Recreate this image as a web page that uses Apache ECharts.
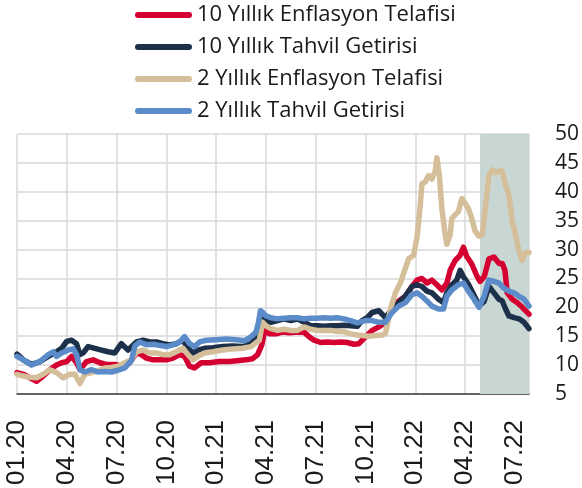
<!DOCTYPE html>
<html>
<head>
<meta charset="utf-8">
<script src="https://cdn.jsdelivr.net/npm/echarts@6/dist/echarts.min.js"></script>
<style>
html,body{margin:0;padding:0;background:#fff;}
#c{width:582px;height:488px;}
</style>
</head>
<body>
<div id="c"></div>
<script>
// x values are months since January 2020
const tickLabels = ['01.20','04.20','07.20','10.20','01.21','04.21','07.21','10.21','01.22','04.22','07.22'];
const seriesNames = ['10 Yıllık Enflasyon Telafisi','10 Yıllık Tahvil Getirisi','2 Yıllık Enflasyon Telafisi','2 Yıllık Tahvil Getirisi'];
const shadeRange = [27.9, 30.85];

const red10 = [[0,8.7],[0.38,8.4],[0.78,7.8],[1.18,7.2],[1.58,8.1],[1.98,9.2],[2.38,10.0],[2.69,10.4],[2.99,10.6],[3.29,11.5],[3.59,10.4],[3.79,9.2],[4.19,10.6],[4.59,10.9],[4.99,10.4],[5.39,10.1],[5.89,10.1],[6.39,9.8],[6.79,10.4],[7.2,12.1],[7.5,11.8],[7.8,11.2],[8.2,10.9],[8.6,10.9],[9.0,10.9],[9.4,11.2],[9.8,11.8],[10.1,11.5],[10.4,9.8],[10.7,9.5],[11.1,10.4],[11.6,10.4],[12.2,10.6],[12.8,10.6],[13.4,10.8],[13.8,10.9],[14.2,11.1],[14.5,11.8],[14.75,13.5],[14.95,16.3],[15.2,15.4],[15.6,15.4],[16.0,15.7],[16.4,15.6],[16.9,15.7],[17.3,15.7],[17.6,14.9],[17.9,14.3],[18.3,13.9],[18.7,14.0],[19.1,13.9],[19.5,14.0],[19.9,13.9],[20.3,13.6],[20.6,13.7],[21.0,14.9],[21.4,16.0],[21.8,16.6],[22.2,17.4],[22.6,19.7],[23.0,21.1],[23.4,21.9],[23.8,23.6],[24.1,24.7],[24.4,25.0],[24.7,24.2],[25.0,24.7],[25.3,23.9],[25.6,23.0],[25.9,24.2],[26.1,26.4],[26.4,28.1],[26.7,29.0],[26.9,30.4],[27.1,28.8],[27.4,27.5],[27.7,25.5],[27.9,24.5],[28.15,25.3],[28.44,28.4],[28.74,28.7],[29.04,27.6],[29.24,27.6],[29.4,26.4],[29.54,22.5],[29.84,21.4],[30.15,20.8],[30.45,20.0],[30.85,18.8]];

const navy10 = [[0,11.9],[0.38,10.9],[0.88,10.1],[1.38,10.6],[1.88,11.5],[2.28,12.1],[2.69,12.9],[2.99,14.1],[3.29,14.3],[3.59,13.7],[3.79,11.8],[3.99,12.1],[4.29,13.2],[4.69,12.9],[5.09,12.6],[5.49,12.3],[5.89,12.1],[6.29,13.7],[6.69,12.6],[7.2,14.0],[7.6,14.3],[8.0,14.0],[8.4,14.0],[8.8,13.7],[9.2,13.5],[9.6,13.7],[10.0,14.3],[10.3,12.9],[10.6,12.1],[10.9,12.6],[11.3,12.9],[11.8,13.0],[12.4,13.2],[13.0,13.3],[13.6,13.2],[14.1,13.7],[14.5,15.1],[14.7,18.2],[15.0,17.7],[15.3,17.4],[15.7,17.7],[16.1,18.0],[16.5,17.7],[16.9,18.0],[17.3,17.4],[17.7,16.8],[18.1,16.8],[18.5,16.7],[18.9,16.8],[19.3,16.8],[19.7,16.9],[20.1,16.8],[20.5,16.7],[20.8,17.7],[21.1,18.2],[21.4,19.1],[21.8,19.4],[22.2,18.2],[22.6,19.7],[23.0,20.8],[23.4,21.9],[23.8,23.6],[24.1,23.9],[24.4,23.6],[24.7,22.8],[25.0,22.5],[25.4,21.4],[25.7,20.8],[25.9,22.5],[26.2,23.9],[26.5,24.7],[26.7,26.4],[26.9,25.3],[27.2,24.0],[27.5,22.3],[27.84,20.3],[28.14,21.0],[28.44,23.6],[28.74,22.5],[29.04,21.4],[29.24,21.1],[29.44,19.7],[29.64,18.5],[29.95,18.2],[30.25,18.0],[30.55,17.4],[30.85,16.3]];

const tan2 = [[0,8.4],[0.38,8.1],[0.78,7.9],[1.18,7.8],[1.58,8.4],[1.98,9.2],[2.38,8.7],[2.79,7.8],[3.19,8.4],[3.49,8.4],[3.79,6.8],[4.09,8.4],[4.49,8.7],[4.89,9.0],[5.29,9.5],[5.69,9.6],[6.09,9.8],[6.49,10.4],[6.89,10.9],[7.2,12.3],[7.6,12.6],[8.0,12.1],[8.4,12.1],[8.8,11.8],[9.2,11.8],[9.6,12.3],[10.0,12.9],[10.3,11.8],[10.6,10.9],[10.9,11.5],[11.3,12.1],[11.8,12.3],[12.4,12.6],[13.0,12.8],[13.6,12.9],[14.1,13.2],[14.6,14.3],[14.8,17.4],[15.0,16.8],[15.3,16.3],[15.7,16.0],[16.1,16.2],[16.5,16.0],[16.9,16.0],[17.3,16.6],[17.7,16.2],[18.1,16.0],[18.5,16.0],[18.9,16.0],[19.3,15.8],[19.7,15.8],[20.1,15.4],[20.5,15.2],[20.8,15.1],[21.2,15.0],[21.6,15.1],[22.0,15.2],[22.2,15.5],[22.35,17.4],[22.5,19.7],[22.8,22.5],[23.1,24.2],[23.3,25.9],[23.6,28.4],[23.9,29.0],[24.1,32.1],[24.3,37.7],[24.4,41.4],[24.6,41.7],[24.8,42.8],[25.0,42.2],[25.2,43.6],[25.3,45.9],[25.45,42.8],[25.6,37.1],[25.8,32.6],[25.9,30.9],[26.1,32.6],[26.2,35.4],[26.4,36.0],[26.6,36.6],[26.8,38.8],[27.0,38.0],[27.2,37.1],[27.4,35.4],[27.6,33.2],[27.84,32.3],[28.04,32.6],[28.24,37.7],[28.44,42.8],[28.64,43.8],[28.84,43.3],[29.04,43.6],[29.24,43.6],[29.44,41.1],[29.64,39.4],[29.84,34.9],[30.04,32.6],[30.24,29.8],[30.44,28.1],[30.64,29.5],[30.85,29.5]];

const blue2 = [[0,11.5],[0.38,10.9],[0.88,10.0],[1.38,10.6],[1.88,11.8],[2.18,12.3],[2.38,11.5],[2.69,12.1],[3.09,12.6],[3.39,12.8],[3.59,11.8],[3.79,9.2],[4.09,8.8],[4.49,9.2],[4.89,8.8],[5.29,8.9],[5.69,8.8],[6.09,9.1],[6.49,9.5],[6.9,10.8],[7.1,13.3],[7.4,14.0],[7.8,13.5],[8.2,13.6],[8.6,13.4],[9.0,13.2],[9.4,13.5],[9.8,14.0],[10.1,14.9],[10.4,13.7],[10.7,13.2],[11.0,14.0],[11.4,14.3],[12.0,14.4],[12.6,14.5],[13.2,14.4],[13.7,14.2],[14.1,14.9],[14.4,15.7],[14.55,17.4],[14.67,19.4],[14.8,19.1],[15.0,18.5],[15.3,18.2],[15.7,18.0],[16.1,18.1],[16.5,18.2],[16.9,18.2],[17.3,18.0],[17.7,18.1],[18.1,18.1],[18.5,18.2],[18.9,18.1],[19.3,18.2],[19.7,18.0],[20.1,17.7],[20.5,17.3],[21.0,17.7],[21.4,17.7],[21.8,17.4],[22.2,17.4],[22.6,19.1],[23.0,20.2],[23.4,20.8],[23.8,22.2],[24.1,22.5],[24.4,21.9],[24.7,21.1],[25.0,20.2],[25.4,19.7],[25.7,19.7],[25.9,21.9],[26.2,23.0],[26.6,23.9],[26.9,24.2],[27.2,22.8],[27.54,21.4],[27.84,20.0],[28.14,21.9],[28.44,24.7],[28.74,24.5],[29.04,24.2],[29.34,23.3],[29.64,22.8],[29.95,22.5],[30.25,21.9],[30.55,21.4],[30.85,20.2]];

const seriesData = [red10, navy10, tan2, blue2];
const seriesColors = ['#d50032', '#1d3049', '#d5bf9b', '#5b8cc9'];

const chart = echarts.init(document.getElementById('c'), null, {renderer: 'canvas'});

const capsule = 'path://M3,0 L54,0 A3,3 0 0 1 54,6 L3,6 A3,3 0 0 1 3,0 Z';

const series = [{
  name: 'shade',
  type: 'line',
  data: [],
  z: 1,
  silent: true,
  markArea: {
    silent: true,
    itemStyle: {color: '#c8d7d4'},
    data: [[{xAxis: shadeRange[0]}, {xAxis: shadeRange[1]}]]
  }
}];
seriesNames.forEach((n, i) => {
  series.push({
    name: n,
    type: 'line',
    data: seriesData[i],
    symbol: 'none',
    showSymbol: false,
    z: 2 + i,
    lineStyle: {width: 5.5, color: seriesColors[i], cap: 'round', join: 'round'},
    itemStyle: {color: seriesColors[i]},
    emphasis: {disabled: true}
  });
});

chart.setOption({
  animation: false,
  grid: {left: 17, right: 53, top: 134, bottom: 88, containLabel: false},
  legend: {
    data: seriesNames.map(n => ({name: n, icon: capsule})),
    orient: 'vertical',
    left: 135,
    top: 4,
    padding: 0,
    itemWidth: 57,
    itemHeight: 6,
    itemGap: 10,
    selectedMode: false,
    textStyle: {fontFamily: 'Open Sans', fontSize: 22, color: '#1a1a1a'}
  },
  xAxis: {
    type: 'value',
    min: 0,
    max: shadeRange[1],
    interval: 3,
    axisLine: {show: true, lineStyle: {color: '#3a3a3a', width: 1.5}},
    axisTick: {show: false},
    splitLine: {show: true, lineStyle: {color: '#d9d9d9', width: 1.5}},
    axisLabel: {
      rotate: 90,
      margin: 26,
      fontFamily: 'Liberation Sans',
      fontSize: 26,
      color: '#1a1a1a',
      showMaxLabel: false,
      formatter: function (v) {
        const k = Math.round(v / 3);
        if (Math.abs(v - k * 3) < 1e-6 && k >= 0 && k < tickLabels.length) return tickLabels[k];
        return '';
      }
    }
  },
  yAxis: {
    type: 'value',
    position: 'right',
    min: 5,
    max: 50,
    interval: 5,
    axisLine: {show: false},
    axisTick: {show: false},
    splitLine: {show: true, lineStyle: {color: '#d9d9d9', width: 1.5}},
    axisLabel: {margin: 26, fontFamily: 'Open Sans', fontSize: 21, color: '#1a1a1a'}
  },
  series: series
});
</script>
</body>
</html>
